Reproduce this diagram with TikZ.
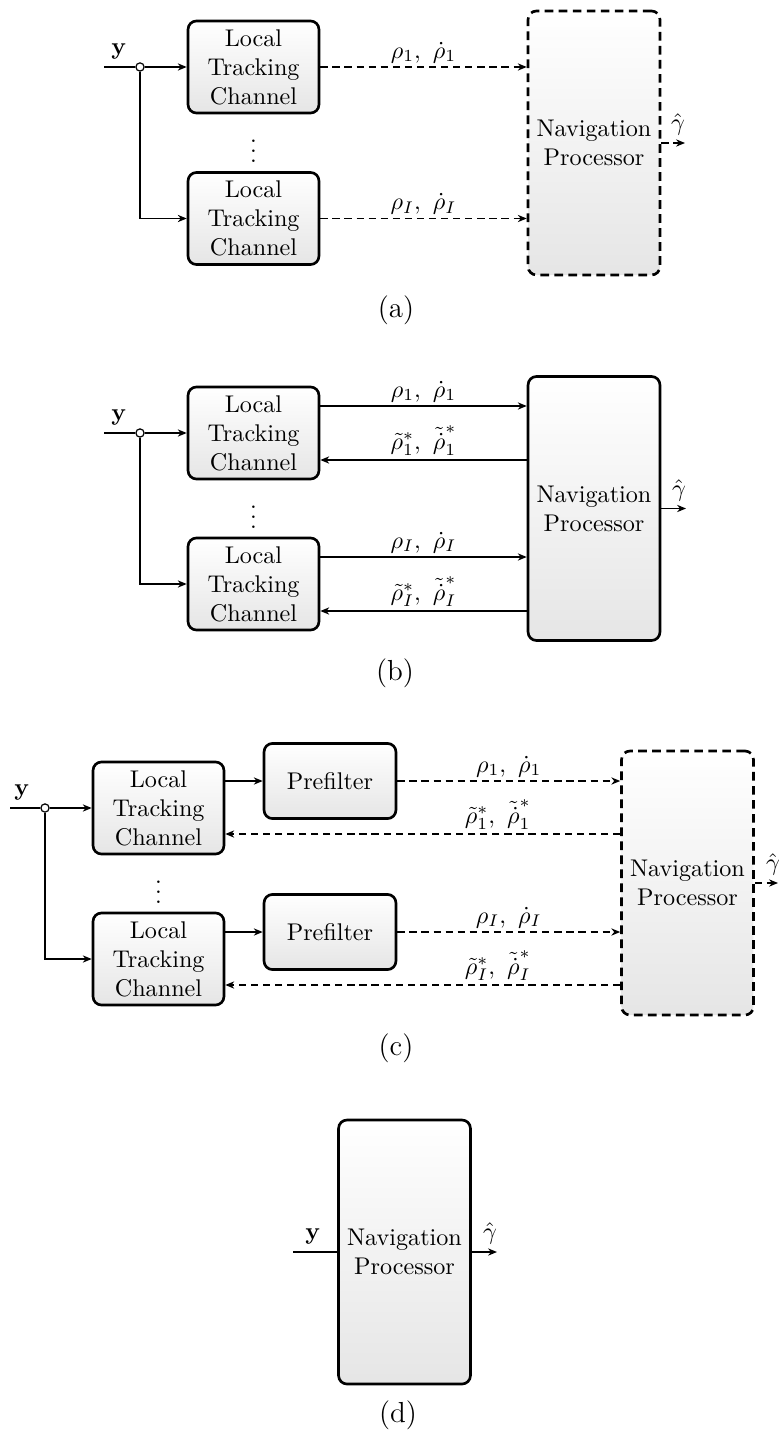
\documentclass[tikz,border=0pt]{standalone}
\usetikzlibrary{arrows.meta,calc}
\begin{document}
\begin{tikzpicture}[x=0.414pt,y=-0.414pt,
  blk/.style={draw, line width=1.1pt, rounded corners=3.5pt, top color=white,
    bottom color=black!10, align=center, inner sep=1pt},
  ltc/.style={blk, minimum width=54.2pt, minimum height=38.1pt},
  pre/.style={blk, minimum width=54.6pt, minimum height=31.1pt},
  nav/.style={blk, minimum width=54.6pt, minimum height=109.3pt},
  navdash/.style={nav, dash pattern=on 3.6pt off 2.2pt},
  conn/.style={line width=0.55pt},
  arr/.style={conn, -{Stealth[length=3.7pt,width=3pt,inset=1.2pt]}},
  darr/.style={arr, dash pattern=on 3pt off 2pt},
  junc/.style={circle, draw, fill=white, line width=0.5pt, inner sep=0pt, minimum size=3.4pt},
  lbl/.style={above, inner sep=1.5pt},
  outlbl/.style={above, inner sep=3pt},
  sub/.style={font=\large}]
\useasboundingbox (0,0) rectangle (778,1435);

% ---------- (a) ----------
\coordinate (ina) at (104,67);
\node[junc] (ja) at (140,67) {};
\node[ltc] (a1) at (253.5,67) {Local\\Tracking\\Channel};
\node[ltc] (a2) at (253.5,218.5) {Local\\Tracking\\Channel};
\node (adots) at (253.5,144) {$\vdots$};
\node[navdash] (na) at (594,143) {Navigation\\Processor};
\coordinate (oa) at (685,143);
\node[outlbl] (ya) at (119,67) {$\mathbf{y}$};
\draw[conn] (ina) -- (ja);
\draw[arr] (ja) -- (a1);
\draw[arr] (ja) |- (a2);
\draw[darr] (a1) -- (a1 -| na.west) node[lbl, midway] (ra1) {$\rho_1,\ \dot{\rho}_1$};
\draw[darr] (a2) -- (a2 -| na.west) node[lbl, midway] (ra2) {$\rho_I,\ \dot{\rho}_I$};
\draw[darr] (na) -- (oa);
\node[outlbl] (ga) at (678,143) {$\hat{\gamma}$};
\node[sub] (capa) at (396,310) {(a)};

% ---------- (b) ----------
\coordinate (inb) at (104,433);
\node[junc] (jb) at (140,433) {};
\node[ltc] (b1) at (253.5,433) {Local\\Tracking\\Channel};
\node[ltc] (b2) at (253.5,584) {Local\\Tracking\\Channel};
\node (bdots) at (253.5,510) {$\vdots$};
\node[nav] (nb) at (594,508.5) {Navigation\\Processor};
\coordinate (ob) at (686,508.5);
\node[outlbl] (yb) at (119,433) {$\mathbf{y}$};
\draw[conn] (inb) -- (jb);
\draw[arr] (jb) -- (b1);
\draw[arr] (jb) |- (b2);
\coordinate (b1f) at ($(b1.east)+(0,-27)$);
\coordinate (b1r) at ($(b1.east)+(0,27)$);
\coordinate (b2f) at ($(b2.east)+(0,-27)$);
\coordinate (b2r) at ($(b2.east)+(0,27)$);
\draw[arr] (b1f) -- (b1f -| nb.west) node[lbl, midway] (rb1) {$\rho_1,\ \dot{\rho}_1$};
\draw[arr] (nb.west |- b1r) -- (b1r) node[lbl, midway] (tb1) {$\tilde{\rho}_1^*,\ \tilde{\dot{\rho}}_1^*$};
\draw[arr] (b2f) -- (b2f -| nb.west) node[lbl, midway] (rb2) {$\rho_I,\ \dot{\rho}_I$};
\draw[arr] (nb.west |- b2r) -- (b2r) node[lbl, midway] (tb2) {$\tilde{\rho}_I^*,\ \tilde{\dot{\rho}}_I^*$};
\draw[arr] (nb) -- (ob);
\node[outlbl] (gb) at (679,508.5) {$\hat{\gamma}$};
\node[sub] (capb) at (395,673) {(b)};

% ---------- (c) ----------
\coordinate (inc) at (10,808);
\node[junc] (jc) at (45,808) {};
\node[ltc] (c1) at (158.5,808) {Local\\Tracking\\Channel};
\node[ltc] (c2) at (158.5,959) {Local\\Tracking\\Channel};
\node[pre] (p1) at (330,781) {Prefilter};
\node[pre] (p2) at (330,932) {Prefilter};
\node (cdots) at (158.5,885) {$\vdots$};
\node[navdash] (nc) at (687.5,883) {Navigation\\Processor};
\coordinate (oc) at (778,883);
\node[outlbl] (yc) at (22,808) {$\mathbf{y}$};
\draw[conn] (inc) -- (jc);
\draw[arr] (jc) -- (c1);
\draw[arr] (jc) |- (c2);
\draw[arr] (c1.east |- p1) -- (p1);
\draw[arr] (c2.east |- p2) -- (p2);
\coordinate (c1r) at ($(c1.east)+(0,26)$);
\coordinate (c2r) at ($(c2.east)+(0,26)$);
\draw[darr] (p1) -- (p1 -| nc.west) node[lbl, midway] (rc1) {$\rho_1,\ \dot{\rho}_1$};
\draw[darr] (nc.west |- c1r) -- (c1r) node[lbl, pos=0.31] (tc1) {$\tilde{\rho}_1^*,\ \tilde{\dot{\rho}}_1^*$};
\draw[darr] (p2) -- (p2 -| nc.west) node[lbl, midway] (rc2) {$\rho_I,\ \dot{\rho}_I$};
\draw[darr] (nc.west |- c2r) -- (c2r) node[lbl, pos=0.31] (tc2) {$\tilde{\rho}_I^*,\ \tilde{\dot{\rho}}_I^*$};
\draw[darr] (nc) -- (oc);
\node[outlbl] (gc) at (773,883) {$\hat{\gamma}$};
\node[sub] (capc) at (396,1048) {(c)};

% ---------- (d) ----------
\coordinate (ind) at (293,1252);
\node[nav] (nd) at (404.5,1252) {Navigation\\Processor};
\coordinate (od) at (497,1252);
\node[outlbl] (yd) at (313,1252) {$\mathbf{y}$};
\draw[conn] (ind) -- (nd);
\draw[arr] (nd) -- (od);
\node[outlbl] (gd) at (490,1252) {$\hat{\gamma}$};
\node[sub] (capd) at (398,1415) {(d)};
\end{tikzpicture}
\end{document}
